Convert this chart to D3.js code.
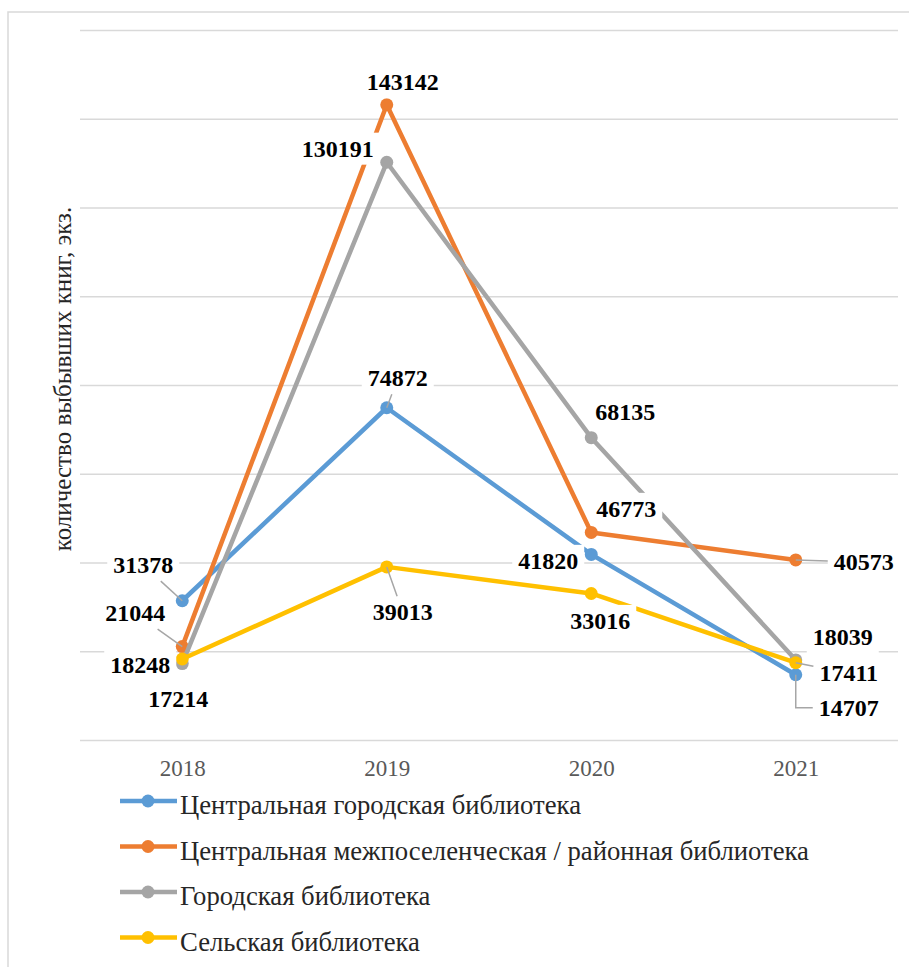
<!DOCTYPE html>
<html>
<head>
<meta charset="utf-8">
<script src="https://cdn.jsdelivr.net/npm/d3@7"></script>
<style>
  body { margin: 0; background: #fff; }
</style>
</head>
<body>
<script>
// ---------- данные ----------
const years = ['2018', '2019', '2020', '2021'];
const seriesNames = [
  'Центральная городская библиотека',
  'Центральная межпоселенческая / районная библиотека',
  'Городская библиотека',
  'Сельская библиотека'
];
const centralCity = [31378, 74872, 41820, 14707];
const centralDistrict = [21044, 143142, 46773, 40573];
const cityLibrary = [17214, 130191, 68135, 18039];
const ruralLibrary = [18248, 39013, 33016, 17411];
const yTicks = [0, 20000, 40000, 60000, 80000, 100000, 120000, 140000, 160000];
const yTitle = 'количество выбывших книг, экз.';

const colors = ['#5b9bd5', '#ed7d31', '#a5a5a5', '#ffc000'];
const serif = 'Liberation Serif, serif';

// смещения подписей от точки: [dx, dy, выноска]
const labelPos = [
  [[-39, -36, 'line'], [11, -30, 'line'], [-43, 6, null], [53, 33, 'elbow']],
  [[-47, -34, 'line'], [16, -23, null], [35, -24, null], [68, 2, 'line']],
  [[-4, 35, null], [-49, -14, null], [34, -26, null], [47, -23, null]],
  [[-42, 6, null], [16, 45, 'line'], [9, 27, null], [53, 10, 'line']]
];

const series = [centralCity, centralDistrict, cityLibrary, ruralLibrary];

// ---------- svg ----------
const width = 909;
const height = 967;
const svg = d3.select('body').append('svg')
  .attr('width', width)
  .attr('height', height);

svg.append('rect').attr('width', width).attr('height', height).attr('fill', '#fff');
svg.append('path')
  .attr('d', `M8,${height} V12 H${width}`)
  .attr('fill', 'none')
  .attr('stroke', '#d9d9d9')
  .attr('stroke-width', 1.5);

const x = d3.scalePoint().domain(years).range([80, 898]).padding(0.5);
const y = d3.scaleLinear().domain([0, 160000]).range([740, 30]);

// ---------- сетка ----------
const grid = svg.append('g')
  .attr('transform', 'translate(80,0)')
  .call(d3.axisLeft(y).tickValues(yTicks).tickSize(-818).tickFormat(''));
grid.select('.domain').remove();
grid.selectAll('line').attr('stroke', '#d9d9d9').attr('stroke-width', 1.5);

// ---------- ось X ----------
const xAxis = svg.append('g')
  .attr('transform', 'translate(0,740)')
  .call(d3.axisBottom(x).tickSize(0).tickPadding(20));
xAxis.select('.domain').remove();
xAxis.attr('font-family', serif).attr('font-size', 23);
xAxis.selectAll('text').attr('fill', '#595959');

// ---------- подпись оси Y ----------
svg.append('text')
  .attr('transform', 'translate(62,379) rotate(-90)')
  .attr('text-anchor', 'middle')
  .attr('dy', '0.35em')
  .attr('font-family', serif)
  .attr('font-size', 25)
  .attr('fill', '#262626')
  .text(yTitle);

// ---------- линии ----------
const line = d3.line()
  .x((d, i) => x(years[i]))
  .y(d => y(d));

const lines = svg.append('g').attr('class', 'lines');
series.forEach((s, k) => {
  const g = lines.append('g');
  g.append('path')
    .attr('d', line(s))
    .attr('fill', 'none')
    .attr('stroke', colors[k])
    .attr('stroke-width', 4.5)
    .attr('stroke-linejoin', 'round');
  g.selectAll('circle')
    .data(s)
    .join('circle')
    .attr('cx', (d, i) => x(years[i]))
    .attr('cy', d => y(d))
    .attr('r', 6.5)
    .attr('fill', colors[k]);
});

// ---------- подписи данных ----------
const labels = svg.append('g').attr('class', 'labels');
const leaders = svg.append('g').attr('class', 'leaders');
series.forEach((s, k) => {
  s.forEach((v, i) => {
    const px = x(years[i]);
    const py = y(v);
    const [dx, dy, leader] = labelPos[k][i];
    const cx = px + dx;
    const cy = py + dy;
    const g = labels.append('g');
    const rect = g.append('rect').attr('fill', '#fff');
    const t = g.append('text')
      .attr('x', cx)
      .attr('y', cy)
      .attr('dy', '0.35em')
      .attr('text-anchor', 'middle')
      .attr('font-family', serif)
      .attr('font-size', 24)
      .attr('font-weight', 'bold')
      .attr('fill', '#000')
      .text(v);
    const bb = t.node().getBBox();
    const padX = 6;
    const padY = 3;
    const bx0 = bb.x - padX;
    const bx1 = bb.x + bb.width + padX;
    const by0 = bb.y - padY;
    const by1 = bb.y + bb.height + padY;
    rect.attr('x', bx0).attr('y', by0)
      .attr('width', bx1 - bx0).attr('height', by1 - by0);

    if (leader === 'line') {
      const hw = (bx1 - bx0) / 2;
      const hh = (by1 - by0) / 2;
      const mx = (bx0 + bx1) / 2;
      const my = (by0 + by1) / 2;
      const vx = px - mx;
      const vy = py - my;
      const tt = Math.min(vx ? hw / Math.abs(vx) : Infinity, vy ? hh / Math.abs(vy) : Infinity);
      leaders.append('line')
        .attr('x1', mx + vx * tt).attr('y1', my + vy * tt)
        .attr('x2', px).attr('y2', py)
        .attr('stroke', '#a6a6a6')
        .attr('stroke-width', 1.5);
    } else if (leader === 'elbow') {
      leaders.append('path')
        .attr('d', `M${px},${py} V${cy} H${bx0}`)
        .attr('fill', 'none')
        .attr('stroke', '#a6a6a6')
        .attr('stroke-width', 1.5);
    }
  });
});

// ---------- легенда ----------
const legend = svg.append('g').attr('class', 'legend');
const legendY = d3.scalePoint().domain(seriesNames).range([801, 937.5]);
seriesNames.forEach((name, k) => {
  const ly = legendY(name);
  legend.append('line')
    .attr('x1', 120).attr('x2', 177)
    .attr('y1', ly).attr('y2', ly)
    .attr('stroke', colors[k])
    .attr('stroke-width', 4.5);
  legend.append('circle')
    .attr('cx', 148).attr('cy', ly).attr('r', 6.5)
    .attr('fill', colors[k]);
  legend.append('text')
    .attr('x', 180)
    .attr('y', ly + 13)
    .attr('font-family', serif)
    .attr('font-size', 26.7)
    .attr('fill', '#262626')
    .text(name);
});
</script>
</body>
</html>
